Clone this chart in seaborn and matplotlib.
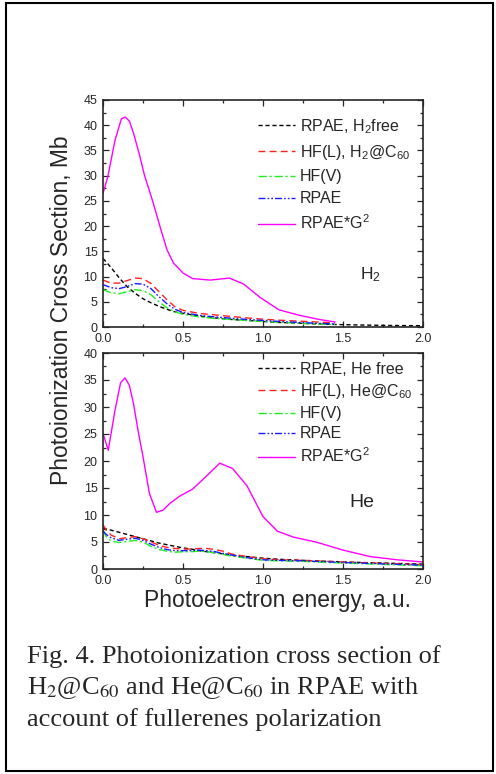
import matplotlib
matplotlib.use("Agg")
import matplotlib.pyplot as plt
import seaborn as sns
import pandas as pd
from matplotlib.patches import Rectangle
from matplotlib.ticker import MultipleLocator

# ---- data ----
# H2 panel
h2_x = [0, 0.05, 0.1, 0.15, 0.2, 0.25, 0.3, 0.35, 0.4, 0.45, 0.5, 0.6, 0.7,
        0.8, 0.9, 1.0, 1.1, 1.2, 1.3, 1.45]
h2_free_x = h2_x + [1.6, 1.8, 2.0]
h2_free = [13.6, 11.8, 9.8, 8.0, 6.7, 5.6, 4.8, 4.1, 3.5, 3.0, 2.7, 2.2, 1.8,
           1.5, 1.3, 1.1, 0.9, 0.8, 0.65, 0.5, 0.4, 0.3, 0.25]
h2_hfl = [9.3, 8.7, 8.7, 9.2, 9.7, 9.6, 8.6, 7.0, 5.4, 4.0, 3.3, 2.7, 2.4,
          2.1, 1.8, 1.55, 1.35, 1.2, 1.05, 0.8]
h2_hfv = [7.4, 6.8, 6.6, 7.0, 7.4, 7.2, 6.4, 5.0, 3.8, 3.0, 2.5, 2.0, 1.7,
          1.5, 1.3, 1.1, 0.95, 0.8, 0.65, 0.5]
h2_rpae = [8.4, 7.8, 7.6, 8.0, 8.6, 8.5, 7.6, 6.0, 4.6, 3.5, 2.9, 2.3, 2.0,
           1.75, 1.5, 1.3, 1.1, 0.95, 0.8, 0.6]
h2_g2_x = [0, 0.03, 0.075, 0.115, 0.14, 0.165, 0.19, 0.225, 0.26, 0.31, 0.36,
           0.4, 0.44, 0.5, 0.56, 0.67, 0.79, 0.88, 0.98, 1.1, 1.23, 1.35, 1.45]
h2_g2 = [26.5, 29.8, 37, 41.3, 41.6, 40.8, 38.5, 34.5, 30, 25, 19.5, 15.3,
         12.7, 10.7, 9.6, 9.3, 9.7, 8.5, 5.9, 3.4, 2.3, 1.5, 1.0]

# He panel
he_x = [0, 0.02, 0.05, 0.1, 0.15, 0.2, 0.25, 0.3, 0.35, 0.4, 0.45, 0.5, 0.55,
        0.6, 0.65, 0.7, 0.75, 0.8, 0.9, 1.0, 1.1, 1.25, 1.5, 1.75, 2.0]
he_free = [7.6, 7.4, 7.2, 6.8, 6.4, 6.0, 5.6, 5.2, 4.8, 4.5, 4.2, 3.9, 3.7,
           3.4, 3.2, 3.0, 2.8, 2.6, 2.3, 2.0, 1.8, 1.6, 1.3, 1.1, 0.9]
he_hfl = [8.2, 7.2, 6.3, 5.6, 5.8, 6.0, 5.6, 5.0, 4.4, 4.0, 3.8, 3.7, 3.7,
          3.8, 3.8, 3.6, 3.3, 2.8, 2.3, 1.9, 1.7, 1.6, 1.3, 1.05, 0.8]
he_hfv = [7.2, 6.0, 5.2, 4.9, 5.1, 5.3, 5.0, 4.2, 3.6, 3.3, 3.1, 3.2, 3.2,
          3.3, 3.2, 3.0, 2.7, 2.4, 2.0, 1.6, 1.5, 1.4, 1.1, 0.85, 0.6]
he_rpae = [7.0, 6.4, 5.8, 5.3, 5.5, 5.7, 5.3, 4.6, 4.0, 3.6, 3.4, 3.4, 3.4,
           3.5, 3.4, 3.2, 2.9, 2.6, 2.1, 1.7, 1.6, 1.5, 1.2, 0.95, 0.7]
he_g2_x = [0, 0.033, 0.075, 0.11, 0.1375, 0.165, 0.19, 0.22, 0.25, 0.29, 0.334,
           0.375, 0.42, 0.48, 0.56, 0.65, 0.73, 0.81, 0.9, 1.0, 1.09, 1.19,
           1.33, 1.5, 1.67, 1.84, 2.0]
he_g2 = [25.1, 22.0, 29.4, 34.5, 35.4, 34.0, 30.7, 25.5, 20.8, 14.0, 10.5,
         10.9, 12.2, 13.5, 14.8, 17.3, 19.6, 18.6, 15.4, 9.7, 7.0, 5.9, 5.0,
         3.5, 2.3, 1.7, 1.3]

sns.set_style("ticks")
plt.rcParams["font.family"] = ["Liberation Sans", "DejaVu Sans"]
plt.rcParams["mathtext.fontset"] = "custom"
plt.rcParams["mathtext.rm"] = "Liberation Sans"
plt.rcParams["mathtext.it"] = "Liberation Sans:italic"

W, H = 496, 774
fig = plt.figure(figsize=(W / 100, H / 100), dpi=100)


def box(l, t, r, b):
    return [l / W, 1 - b / H, (r - l) / W, (b - t) / H]


ax1 = fig.add_axes(box(103, 100, 423, 327))
ax2 = fig.add_axes(box(103, 353, 423, 569))

styles = {
    "free": dict(color="black", linestyle=(0, (3, 2))),
    "hfl": dict(color="#ff2020", linestyle=(0, (5, 3))),
    "hfv": dict(color="#22ee22", linestyle=(0, (6, 2, 1.5, 2))),
    "rpae": dict(color="#1a1aff", linestyle=(0, (5, 1.5, 1.2, 1.5, 1.2, 1.5))),
    "g2": dict(color="#ff00ff", linestyle="-"),
}


def panel(ax, series, labels):
    for key, (xs, ys) in series.items():
        df = pd.DataFrame({"x": xs, "y": ys})
        sns.lineplot(data=df, x="x", y="y", ax=ax, lw=1.0, label=labels[key],
                     **styles[key])
    ax.set_xlim(0, 2.0)
    ax.xaxis.set_major_locator(MultipleLocator(0.5))
    ax.xaxis.set_minor_locator(MultipleLocator(0.25))
    ax.yaxis.set_major_locator(MultipleLocator(5))
    ax.yaxis.set_minor_locator(MultipleLocator(2.5))
    ax.tick_params(which="both", direction="in", top=True, right=True,
                   labelsize=9, width=0.9)
    ax.tick_params(axis="x", pad=4.5)
    ax.tick_params(axis="y", pad=4)
    ax.tick_params(which="major", length=4)
    ax.tick_params(which="minor", length=2.5)
    for s in ax.spines.values():
        s.set_linewidth(1.2)
    ax.set_xlabel("")
    ax.set_ylabel("")
    ax.xaxis.set_major_formatter(plt.FuncFormatter(lambda v, p: f"{v:.1f}"))


legend_kw = dict(loc="upper left", frameon=False, fontsize=11.5,
                 handlelength=2.3, handletextpad=0.3, borderpad=0,
                 borderaxespad=0)

panel(ax1,
      {"free": (h2_free_x, h2_free), "hfl": (h2_x, h2_hfl), "hfv": (h2_x, h2_hfv),
       "rpae": (h2_x, h2_rpae), "g2": (h2_g2_x, h2_g2)},
      {"free": "RPAE, H$_2$free", "hfl": "HF(L), H$_2$@C$_{60}$", "hfv": "HF(V)",
       "rpae": "RPAE", "g2": "RPAE*G$^2$"})
ax1.set_ylim(0, 45)
ax1.legend(bbox_to_anchor=(155 / 320, 0.925), labelspacing=0.45, **legend_kw)
ax1.text(1.67, 10.3, "H$_2$", fontsize=12.5, ha="center", va="center")

panel(ax2,
      {"free": (he_x, he_free), "hfl": (he_x, he_hfl), "hfv": (he_x, he_hfv),
       "rpae": (he_x, he_rpae), "g2": (he_g2_x, he_g2)},
      {"free": "RPAE, He free", "hfl": "HF(L), He@C$_{60}$", "hfv": "HF(V)",
       "rpae": "RPAE", "g2": "RPAE*G$^2$"})
ax2.set_ylim(0, 40)
ax2.legend(bbox_to_anchor=(155 / 320, 0.96), labelspacing=0.33, **legend_kw)
ax2.text(1.62, 12.4, "He", fontsize=14, ha="center", va="center")

fig.text(62 / W, 1 - 310 / H, "Photoionization Cross Section, Mb", rotation=90,
         fontsize=16.5, ha="center", va="center")
fig.text(278 / W, 1 - 601 / H, "Photoelectron energy, a.u.", fontsize=16.5,
         ha="center", va="center")

cap = ["Fig. 4. Photoionization cross section of",
       "H$_2$@C$_{60}$ and He@C$_{60}$ in RPAE with",
       "account of fullerenes polarization"]
for i, line in enumerate(cap):
    fig.text(27 / W, 1 - (663 + 31.5 * i) / H, line, fontsize=19,
             family="Liberation Serif", math_fontfamily="stix",
             ha="left", va="baseline")

fig.patches.append(Rectangle((6 / W, 3 / H), 487 / W, 768 / H, transform=fig.transFigure,
                             fill=False, edgecolor="black", lw=1.5))

fig.savefig("out.png", dpi=100)
